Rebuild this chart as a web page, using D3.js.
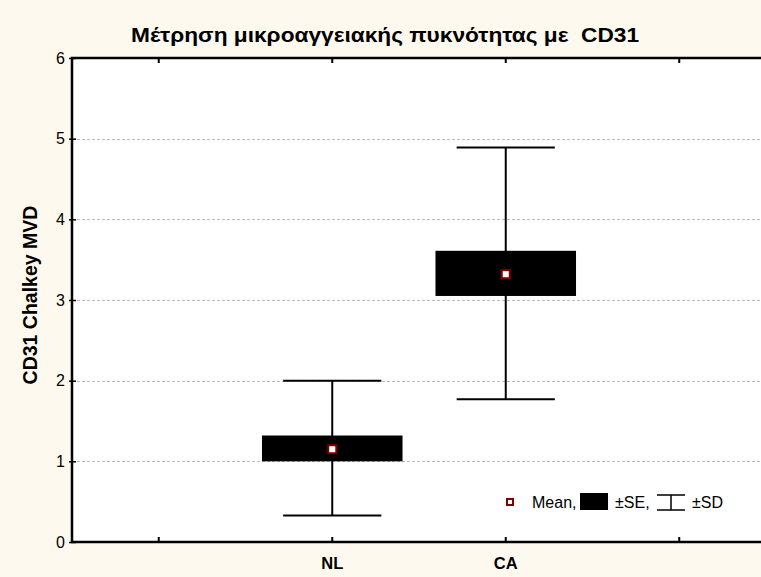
<!DOCTYPE html>
<html>
<head>
<meta charset="utf-8">
<script src="https://cdn.jsdelivr.net/npm/d3@7"></script>
<style>
  html, body { margin: 0; padding: 0; background: #fef9ee; overflow: hidden; }
  svg { display: block; font-family: "Liberation Sans", Arial, sans-serif; }
</style>
</head>
<body>
<svg id="chart" width="761" height="577"></svg>
<script>
// data
const xTicks = ["", "NL", "CA", " "];
const groups = ["NL", "CA"];
const means = [1.15, 3.32];
const seLow = [1.0, 3.05];
const seHigh = [1.32, 3.61];
const sdLow = [0.33, 1.77];
const sdHigh = [2.0, 4.89];
const yTicks = [0, 1, 2, 3, 4, 5, 6];

var svg = d3.select("#chart"),
  margin = { top: 58, right: -5, bottom: 35, left: 72 },
  width = +svg.attr("width") - margin.left - margin.right,
  height = +svg.attr("height") - margin.top - margin.bottom;

svg.append("rect").attr("width", 761).attr("height", 577).attr("fill", "#fef9ee");

var g = svg.append("g")
  .attr("transform", "translate(" + margin.left + "," + margin.top + ")");

var x = d3.scaleBand().domain(xTicks).range([0, width]);
var y = d3.scaleLinear().domain([0, 6]).range([height, 0]);

g.append("rect")
  .attr("width", width)
  .attr("height", height)
  .attr("fill", "#fff");

// grid
g.append("g")
  .selectAll("line")
  .data(yTicks.filter((d) => d > 0 && d < 6))
  .enter()
  .append("line")
  .attr("x1", 0)
  .attr("x2", width)
  .attr("y1", (d) => Math.round(y(d)) + 0.5)
  .attr("y2", (d) => Math.round(y(d)) + 0.5)
  .attr("stroke", "#bdbdbd")
  .attr("stroke-dasharray", "3,2");

const data = groups.map((k, i) => ({
  k: k, mean: means[i], seLow: seLow[i], seHigh: seHigh[i], sdLow: sdLow[i], sdHigh: sdHigh[i]
}));

const bw = x.bandwidth();
const cx = (d) => x(d.k) + bw / 2;

var box = g.append("g").selectAll("g").data(data).enter().append("g");

box.append("line")
  .attr("x1", cx).attr("x2", cx)
  .attr("y1", (d) => y(d.sdLow)).attr("y2", (d) => y(d.sdHigh))
  .attr("stroke", "#000").attr("stroke-width", 2);

box.selectAll("line.cap")
  .data((d) => [{ d: d, v: d.sdLow }, { d: d, v: d.sdHigh }])
  .enter()
  .append("line")
  .attr("class", "cap")
  .attr("x1", (c) => cx(c.d) - bw * 0.283)
  .attr("x2", (c) => cx(c.d) + bw * 0.283)
  .attr("y1", (c) => y(c.v)).attr("y2", (c) => y(c.v))
  .attr("stroke", "#000").attr("stroke-width", 2);

box.append("rect")
  .attr("x", (d) => cx(d) - bw * 0.405)
  .attr("width", bw * 0.81)
  .attr("y", (d) => y(d.seHigh))
  .attr("height", (d) => y(d.seLow) - y(d.seHigh))
  .attr("fill", "#000");

box.append("rect")
  .attr("x", (d) => cx(d) - 4)
  .attr("y", (d) => y(d.mean) - 4)
  .attr("width", 8).attr("height", 8)
  .attr("fill", "#fff")
  .attr("stroke", "#800000")
  .attr("stroke-width", 2);

// axes
var yAxis = g.append("g")
  .call(d3.axisLeft(y).tickValues(yTicks).tickFormat(d3.format("d")).tickSize(3).tickPadding(4));
yAxis.select(".domain").remove();
yAxis.selectAll("text").attr("font-size", 16).attr("fill", "#000").attr("font-family", "Liberation Sans, Arial");
yAxis.selectAll("line").attr("x2", -3).attr("x1", 4).attr("stroke-width", 1.5);

var xAxis = g.append("g")
  .attr("transform", "translate(0," + height + ")")
  .call(d3.axisBottom(x).tickSize(-5).tickSizeOuter(0).tickPadding(15));
xAxis.select(".domain").remove();
xAxis.selectAll("line").attr("stroke-width", 2);
xAxis.selectAll("text").attr("font-size", 16.5).attr("font-weight", "bold").attr("fill", "#000").attr("font-family", "Liberation Sans, Arial");

var xTop = g.append("g")
  .call(d3.axisTop(x).tickSize(-5).tickSizeOuter(0).tickFormat(""));
xTop.select(".domain").remove();
xTop.selectAll("line").attr("stroke-width", 2);

// frame
g.append("path")
  .attr("d", "M" + width + ",0H0V" + height + "H" + width)
  .attr("fill", "none")
  .attr("stroke", "#000")
  .attr("stroke-width", 2.5);

// title and labels
svg.append("text")
  .attr("x", 385).attr("y", 42)
  .attr("text-anchor", "middle")
  .attr("font-size", 21).attr("font-weight", "bold")
  .attr("textLength", 508).attr("lengthAdjust", "spacingAndGlyphs")
  .attr("xml:space", "preserve")
  .text("Μέτρηση μικροαγγειακής πυκνότητας με  CD31");

svg.append("text")
  .attr("transform", "translate(37,295) rotate(-90)")
  .attr("text-anchor", "middle")
  .attr("font-size", 19.5).attr("font-weight", "bold")
  .text("CD31 Chalkey MVD");

// legend
var lg = svg.append("g").attr("transform", "translate(510,502)").attr("font-size", 16);
lg.append("rect").attr("x", -3).attr("y", -3).attr("width", 6).attr("height", 6)
  .attr("fill", "#fff").attr("stroke", "#800000").attr("stroke-width", 2);
lg.append("text").attr("x", 22).attr("y", 6).text("Mean,");
lg.append("rect").attr("x", 70).attr("y", -9).attr("width", 28).attr("height", 17).attr("fill", "#000");
lg.append("text").attr("x", 105).attr("y", 6).text("±SE,");
lg.append("path").attr("d", "M147,-7H175M161,-7V8M147,8H175").attr("stroke", "#000").attr("stroke-width", 1.5).attr("fill", "none");
lg.append("text").attr("x", 182).attr("y", 6).text("±SD");
</script>
</body>
</html>
